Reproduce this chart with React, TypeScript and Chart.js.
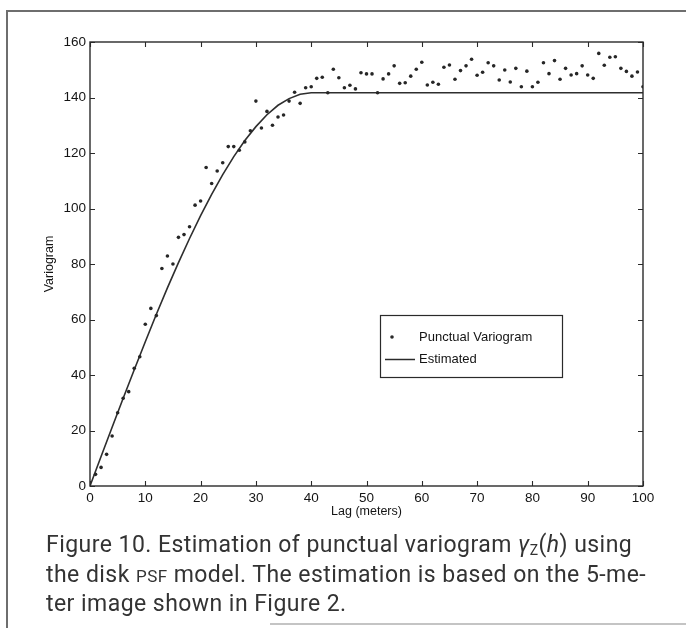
import React, { useEffect, useRef } from 'react';
import { Chart, registerables } from 'chart.js';

Chart.register(...registerables);

// Lag (meters) of each punctual variogram sample
const lags = [
  1, 2, 3, 4, 5, 6, 7, 8, 9, 10,
  11, 12, 13, 14, 15, 16, 17, 18, 19, 20,
  21, 22, 23, 24, 25, 26, 27, 28, 29, 30,
  31, 32, 33, 34, 35, 36, 37, 38, 39, 40,
  41, 42, 43, 44, 45, 46, 47, 48, 49, 50,
  51, 52, 53, 54, 55, 56, 57, 58, 59, 60,
  61, 62, 63, 64, 65, 66, 67, 68, 69, 70,
  71, 72, 73, 74, 75, 76, 77, 78, 79, 80,
  81, 82, 83, 84, 85, 86, 87, 88, 89, 90,
  91, 92, 93, 94, 95, 96, 97, 98, 99, 100,
];

// Punctual variogram values
const punctualValues = [
  4.2, 6.7, 11.4, 18, 26.4, 31.6, 34, 42.4, 46.6, 58.3,
  64, 61.4, 78.4, 82.9, 80, 89.6, 90.6, 93.4, 101.2, 102.7,
  114.8, 109, 113.5, 116.5, 122.3, 122.3, 121, 124, 128, 138.7,
  129, 135, 130, 133, 133.7, 138.7, 141.9, 137.9, 143.5, 143.9,
  146.9, 147.3, 141.7, 150.2, 147.1, 143.5, 144.4, 143.1, 148.9, 148.5,
  148.5, 141.7, 146.7, 148.5, 151.4, 145.1, 145.3, 147.7, 150.2, 152.7,
  144.5, 145.5, 144.8, 150.9, 151.7, 146.6, 149.7, 151.4, 153.8, 148,
  149.1, 152.5, 151.4, 146.3, 149.9, 145.6, 150.5, 143.9, 149.5, 143.9,
  145.5, 152.5, 148.6, 153.3, 146.6, 150.5, 148.1, 148.6, 151.4, 148.1,
  146.9, 155.9, 151.6, 154.5, 154.7, 150.5, 149.4, 147.7, 149.2, 143.9,
];

// Estimated (model) curve
const estimatedLags = [0, 2, 4, 6, 8, 10, 12, 14, 16, 18, 20, 22, 24, 26, 28, 30, 32, 34, 36, 38, 40, 100];
const estimatedValues = [0, 10.6, 21.2, 31.6, 41.9, 52, 61.9, 71.4, 80.5, 89.2, 97.4, 105.1, 112.2, 118.7, 124.5, 129.5, 133.8, 137.2, 139.6, 141.2, 141.7, 141.7];

const xTickStep = 10;
const yTickStep = 20;
const xRange = [0, 100];
const yRange = [0, 160];

const AXIS_FONT = '"Liberation Sans", Arial, sans-serif';
const INK = '#141414';

const boxAndTicks = {
  id: 'boxAndTicks',
  afterDatasetsDraw(chart: any) {
    const { ctx, chartArea: a, scales } = chart;
    const x = scales.x;
    const y = scales.y;
    ctx.save();
    ctx.strokeStyle = '#2a2a2a';
    ctx.lineWidth = 1.4;
    ctx.strokeRect(a.left, a.top, a.right - a.left, a.bottom - a.top);
    ctx.lineWidth = 1.1;
    const tl = 5;
    ctx.beginPath();
    x.ticks.forEach((t: any) => {
      const px = Math.round(x.getPixelForValue(t.value)) + 0.5;
      ctx.moveTo(px, a.bottom);
      ctx.lineTo(px, a.bottom - tl);
      ctx.moveTo(px, a.top);
      ctx.lineTo(px, a.top + tl);
    });
    y.ticks.forEach((t: any) => {
      const py = Math.round(y.getPixelForValue(t.value)) + 0.5;
      ctx.moveTo(a.left, py);
      ctx.lineTo(a.left + tl, py);
      ctx.moveTo(a.right, py);
      ctx.lineTo(a.right - tl, py);
    });
    ctx.stroke();

    // legend box
    const ds = chart.data.datasets;
    const lx = 380.5, ly = 315.5, lw = 182, lh = 62;
    ctx.fillStyle = '#fff';
    ctx.fillRect(lx, ly, lw, lh);
    ctx.strokeStyle = '#2a2a2a';
    ctx.lineWidth = 1.2;
    ctx.strokeRect(lx, ly, lw, lh);
    ctx.fillStyle = '#2a2a2a';
    ctx.beginPath();
    ctx.arc(392, 337, 1.8, 0, Math.PI * 2);
    ctx.fill();
    ctx.beginPath();
    ctx.lineWidth = 1.5;
    ctx.moveTo(385, 359.5);
    ctx.lineTo(415, 359.5);
    ctx.stroke();
    ctx.fillStyle = INK;
    ctx.font = `13px ${AXIS_FONT}`;
    ctx.textBaseline = 'middle';
    ctx.textAlign = 'left';
    ctx.fillText(ds[0].label, 419, 337);
    ctx.fillText(ds[1].label, 419, 359);
    ctx.restore();
  },
};

function VariogramChart() {
  const ref = useRef<HTMLCanvasElement | null>(null);
  useEffect(() => {
    if (!ref.current) return;
    const chart = new Chart(ref.current, {
      type: 'scatter',
      data: {
        datasets: [
          {
            label: 'Punctual Variogram',
            data: lags.map((lag, i) => ({ x: lag, y: punctualValues[i] })),
            pointRadius: 1.8,
            pointBackgroundColor: '#262626',
            pointBorderWidth: 0,
            showLine: false,
            order: 0,
          },
          {
            label: 'Estimated',
            data: estimatedLags.map((lag, i) => ({ x: lag, y: estimatedValues[i] })),
            showLine: true,
            pointRadius: 0,
            borderColor: '#2e2e2e',
            borderWidth: 1.6,
            tension: 0,
            order: 1,
          },
        ],
      },
      options: {
        responsive: false,
        maintainAspectRatio: false,
        animation: false,
        layout: { padding: { left: 0, top: 42, right: 43, bottom: 106 } },
        plugins: { legend: { display: false }, tooltip: { enabled: false } },
        scales: {
          x: {
            type: 'linear',
            min: xRange[0],
            max: xRange[1],
            ticks: { stepSize: xTickStep, color: INK, font: { family: AXIS_FONT, size: 13.5 }, padding: 4, maxRotation: 0 },
            grid: { display: false, drawTicks: false },
            border: { display: false },
            title: { display: true, text: 'Lag (meters)', color: INK, font: { family: AXIS_FONT, size: 12.5 }, padding: { top: 0, bottom: 3 } },
            afterFit(s: any) { s.height = 36; },
          },
          y: {
            type: 'linear',
            min: yRange[0],
            max: yRange[1],
            ticks: { stepSize: yTickStep, color: INK, font: { family: AXIS_FONT, size: 13.5 }, padding: 4 },
            grid: { display: false, drawTicks: false },
            border: { display: false },
            title: { display: true, text: 'Variogram', color: INK, font: { family: AXIS_FONT, size: 12.5 }, padding: { top: 42, bottom: 0 } },
            afterFit(s: any) { s.width = 90; },
          },
        },
      } as any,
      plugins: [boxAndTicks],
    });
    return () => chart.destroy();
  }, []);
  return <canvas ref={ref} width={686} height={628} style={{ position: 'absolute', left: 0, top: 0, width: 686, height: 628 }} />;
}

const lineStyle: React.CSSProperties = { height: 29.5, lineHeight: '29.5px' };

export default function App() {
  return (
    <div style={{ position: 'fixed', left: 0, top: 0, width: 686, height: 628, background: '#fff', overflow: 'hidden' }}>
      <div style={{ position: 'absolute', left: 6, top: 10, width: 1.5, height: 618, background: '#6e6e6e' }} />
      <div style={{ position: 'absolute', left: 6, top: 10, width: 680, height: 1.5, background: '#6e6e6e' }} />
      <div style={{ position: 'absolute', left: 270, top: 623, width: 416, height: 1.5, background: '#c4c4c4' }} />
      <VariogramChart />
      <div
        style={{
          position: 'absolute',
          left: 46,
          top: 530,
          fontFamily: 'Roboto, "Noto Sans", sans-serif',
          fontSize: 23,
          letterSpacing: '0.45px',
          color: '#333',
          whiteSpace: 'nowrap',
        }}
      >
        <div style={lineStyle}>
          Figure 10. Estimation of punctual variogram <i>γ</i>
          <sub style={{ fontSize: 14, lineHeight: 0, verticalAlign: '-3px' }}>Z</sub>(<i>h</i>) using
        </div>
        <div style={lineStyle}>
          the disk <span style={{ fontSize: 17 }}>PSF</span> model. The estimation is based on the 5-me-
        </div>
        <div style={lineStyle}>ter image shown in Figure 2.</div>
      </div>
    </div>
  );
}
